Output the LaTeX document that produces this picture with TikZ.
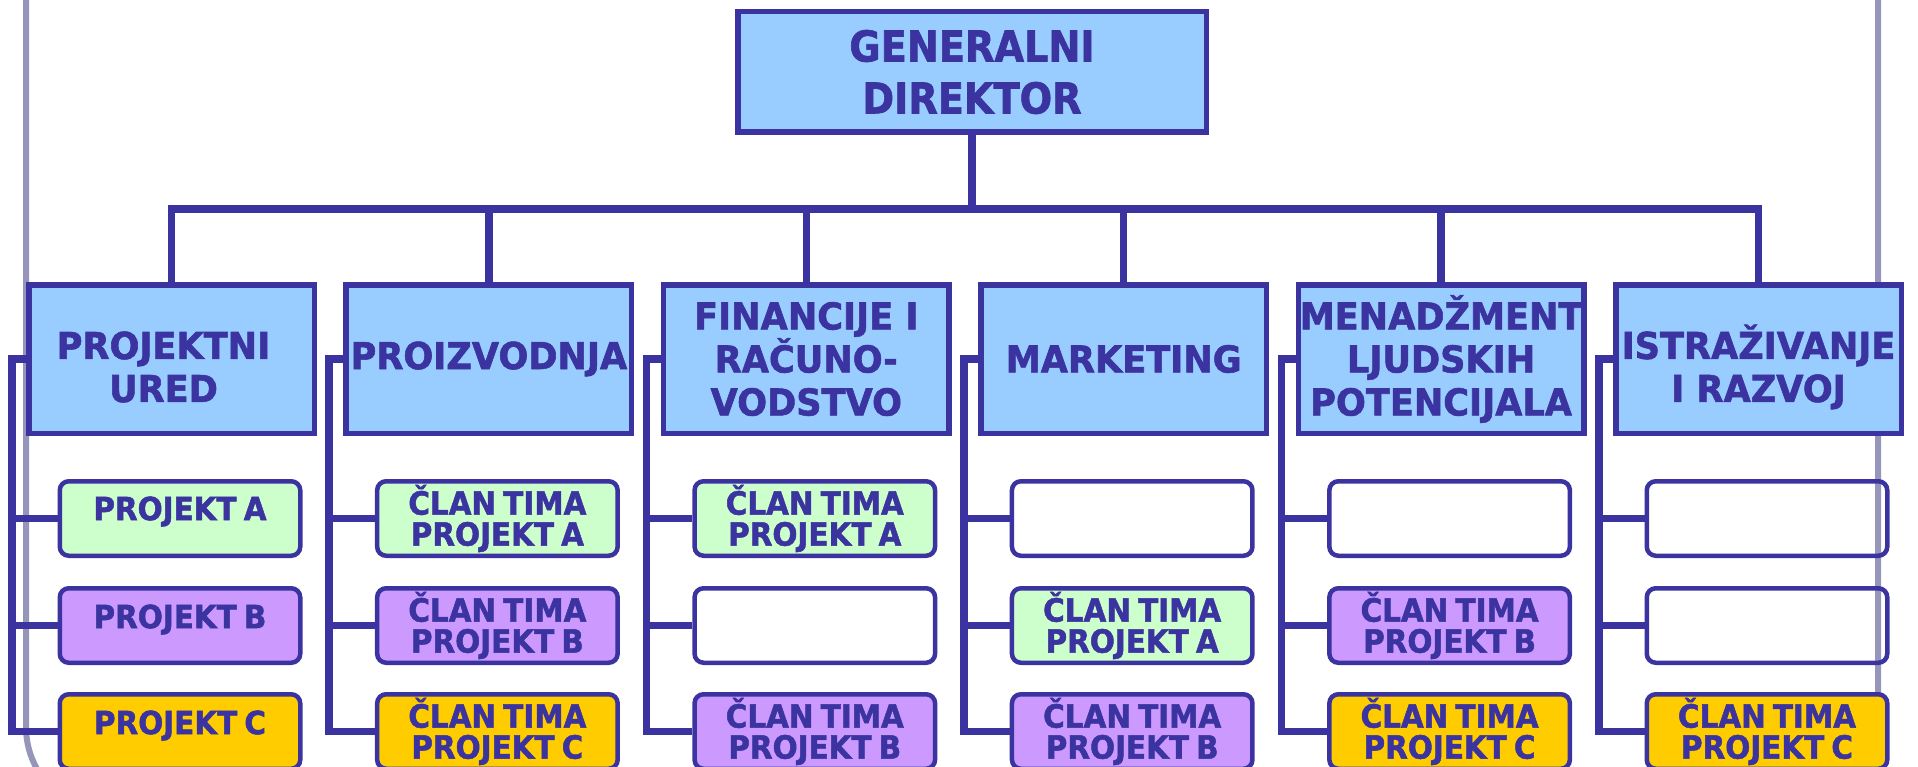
\documentclass[tikz,border=0pt]{standalone}
\usepackage{fontspec}
\setmainfont{DejaVu Sans}
\newfontfamily\topfam{DejaVu Sans Bold}[FakeStretch=0.9, FakeBold=1.5]
\newfontfamily\deptfam{DejaVu Sans Bold}[FakeStretch=0.95, FakeBold=1.5]
\newfontfamily\memfam{DejaVu Sans Bold}[FakeStretch=0.92, FakeBold=1.5, WordSpace=0.7]
\definecolor{navy}{RGB}{58,51,160}
\definecolor{deptblue}{RGB}{153,204,255}
\definecolor{pgreen}{RGB}{204,255,204}
\definecolor{ppurple}{RGB}{204,153,255}
\definecolor{pyellow}{RGB}{255,204,0}
\definecolor{framegray}{RGB}{150,150,186}
\pgfdeclarelayer{bg}
\pgfsetlayers{bg,main}
\begin{document}
\begin{tikzpicture}[x=1pt,y=-1pt,
  topbox/.style={draw=navy, fill=deptblue, line width=5.5pt, minimum width=468.5pt, minimum height=120.5pt,
    inner sep=0pt, align=center, text=navy, font=\topfam\fontsize{42.5}{52}\selectfont},
  depttext/.style={inner sep=0pt, align=center, text=navy, font=\deptfam\fontsize{37}{43}\selectfont},
  deptbox/.style={depttext, draw=navy, fill=deptblue, line width=5.5pt, minimum width=285.5pt, minimum height=148.5pt},
  memtext/.style={inner sep=0pt, align=center, text=navy, font=\memfam\fontsize{32}{31}\selectfont},
  membox/.style={memtext, draw=navy, line width=4.5pt, rounded corners=9pt, minimum width=240.5pt, minimum height=74.5pt},
  conn/.style={draw=navy, line width=7.5pt, line join=miter},
  frame/.style={draw=framegray, line width=6pt, rounded corners=85pt}]
\clip (0,0) rectangle (1918,767);
% top
\node[topbox] (gd) at (972,72) {GENERALNI\\DIREKTOR};
% departments
\node[deptbox, label={[depttext, xshift=-8pt, yshift=-8pt]center:{PROJEKTNI\\URED}}] (b1) at (171.5,359) {};
\node[deptbox] (b2) at (488.9,359) {PROIZVODNJA};
\node[deptbox] (b3) at (806.3,359) {FINANCIJE I\\RAČUNO-\\VODSTVO};
\node[deptbox] (b4) at (1123.7,359) {MARKETING};
\node[deptbox] (b5) at (1441.1,359) {MENADŽMENT\\LJUDSKIH\\POTENCIJALA};
\node[deptbox, label={[depttext, yshift=-8pt]center:{ISTRAŽIVANJE\\I RAZVOJ}}] (b6) at (1758.5,359) {};
% column 1
\node[membox, fill=pgreen, label={[memtext, yshift=7pt]center:PROJEKT A}] (c11) at (180,518.5) {};
\node[membox, fill=ppurple, label={[memtext, yshift=6pt]center:PROJEKT B}] (c12) at (180,625.5) {};
\node[membox, fill=pyellow, label={[memtext, yshift=6pt]center:PROJEKT C}] (c13) at (180,731.5) {};
% column 2
\node[membox, fill=pgreen] (c21) at (497.4,518.5) {ČLAN TIMA\\PROJEKT A};
\node[membox, fill=ppurple] (c22) at (497.4,625.5) {ČLAN TIMA\\PROJEKT B};
\node[membox, fill=pyellow] (c23) at (497.4,731.5) {ČLAN TIMA\\PROJEKT C};
% column 3
\node[membox, fill=pgreen] (c31) at (814.8,518.5) {ČLAN TIMA\\PROJEKT A};
\node[membox] (c32) at (814.8,625.5) {};
\node[membox, fill=ppurple] (c33) at (814.8,731.5) {ČLAN TIMA\\PROJEKT B};
% column 4
\node[membox] (c41) at (1132.2,518.5) {};
\node[membox, fill=pgreen] (c42) at (1132.2,625.5) {ČLAN TIMA\\PROJEKT A};
\node[membox, fill=ppurple] (c43) at (1132.2,731.5) {ČLAN TIMA\\PROJEKT B};
% column 5
\node[membox] (c51) at (1449.6,518.5) {};
\node[membox, fill=ppurple] (c52) at (1449.6,625.5) {ČLAN TIMA\\PROJEKT B};
\node[membox, fill=pyellow] (c53) at (1449.6,731.5) {ČLAN TIMA\\PROJEKT C};
% column 6
\node[membox] (c61) at (1767,518.5) {};
\node[membox] (c62) at (1767,625.5) {};
\node[membox, fill=pyellow] (c63) at (1767,731.5) {ČLAN TIMA\\PROJEKT C};
\coordinate (bus) at (972,209);
\begin{pgfonlayer}{bg}
\draw[frame] (26,-40) -- (26,812) -- (1878,812) -- (1878,-40);
\draw[conn] (gd.south) -- (gd.south |- bus);
\draw[conn] (b1.north) -- (b1.north |- bus) -- (b6.north |- bus) -- (b6.north);
\foreach \i in {2,...,5} {\draw[conn] (b\i.north) -- (b\i.north |- bus);}
\foreach \i in {1,...,6} {
  \path (b\i.west) ++(-14.25,0) coordinate (k\i);
  \draw[conn] (b\i.west) -- (k\i) -- (k\i |- c\i3.west) -- (c\i3.west);
  \draw[conn] (k\i |- c\i1.west) -- (c\i1.west);
  \draw[conn] (k\i |- c\i2.west) -- (c\i2.west);
}
\end{pgfonlayer}
\end{tikzpicture}
\end{document}
